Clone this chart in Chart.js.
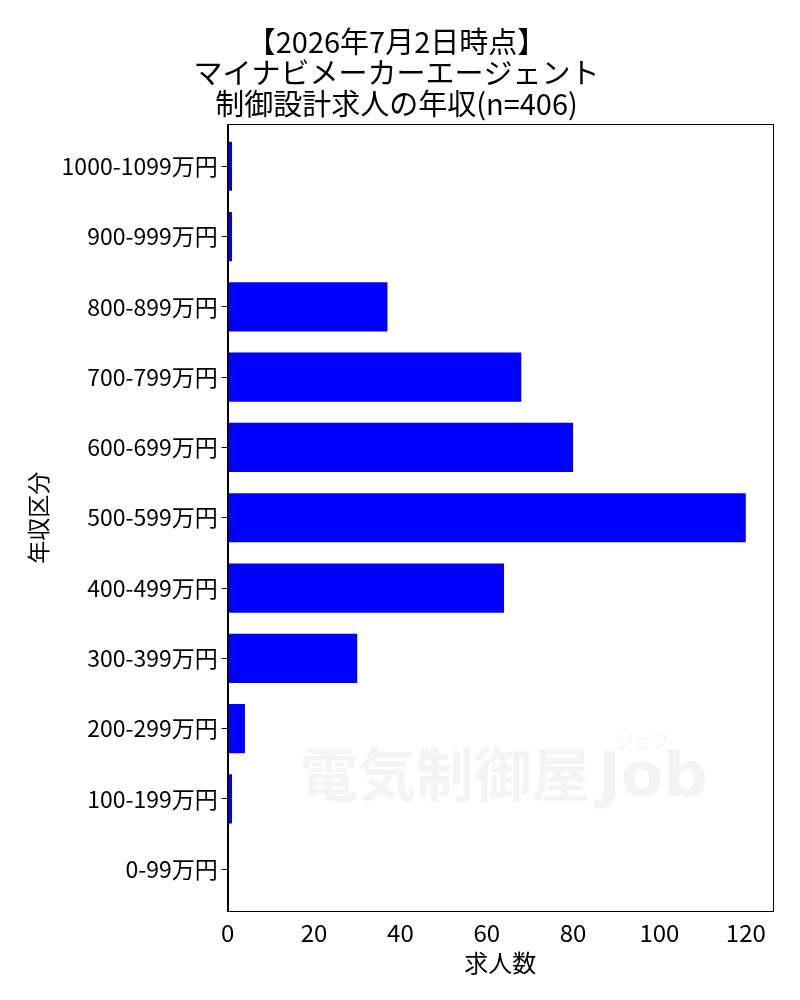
<!DOCTYPE html>
<html><head><meta charset="utf-8">
<script src="https://cdn.jsdelivr.net/npm/chart.js@4"></script>
<style>html,body{margin:0;padding:0;background:#fff}#wrap{width:800px;height:1000px}</style>
</head><body><div id="wrap"><canvas id="c" width="800" height="1000"></canvas></div>
<script>
const categories = ["1000-1099万円","900-999万円","800-899万円","700-799万円","600-699万円","500-599万円","400-499万円","300-399万円","200-299万円","100-199万円","0-99万円"];
const counts = [1,1,37,68,80,120,64,30,4,1,0];
const xTicks = [0,20,40,60,80,100,120];
const titleLines = ["【2026年7月2日時点】","マイナビメーカーエージェント","制御設計求人の年収(n=406)"];
const xTitle = "求人数";
const yTitle = "年収区分";
const watermark = "電気制御屋";

const FONT = "'Noto Sans CJK JP', 'Noto Sans', sans-serif";

const framePlugin = {
  id: 'frame',
  beforeDatasetsDraw(chart) {
    const {ctx, chartArea: a} = chart;
    ctx.save();
    ctx.fillStyle = '#f4f4f4';
    ctx.font = "bold 58px " + FONT;
    ctx.textBaseline = 'alphabetic';
    ctx.textAlign = 'left';
    ctx.fillText(watermark, a.left + 72, a.top + 672);
    ctx.font = "bold 62px 'DejaVu Sans', sans-serif";
    ctx.fillText("Job", a.left + 370, a.top + 672);
    ctx.font = "18px " + FONT;
    ctx.fillText("ジョブ", a.left + 388, a.top + 624);
    ctx.restore();
  },
  afterDraw(chart) {
    const {ctx, chartArea: a} = chart;
    ctx.save();
    ctx.strokeStyle = '#000';
    ctx.lineWidth = 1;
    ctx.strokeRect(Math.round(a.left) + 0.5, Math.round(a.top) + 0.5, Math.round(a.right - a.left), Math.round(a.bottom - a.top));
    ctx.restore();
  }
};

new Chart(document.getElementById('c'), {
  type: 'bar',
  data: {
    datasets: [{
      data: counts.map((v, i) => ({x: v, y: i})),
      backgroundColor: '#0000ff',
      borderWidth: 0,
      barPercentage: 0.7,
      categoryPercentage: 1.0
    }]
  },
  options: {
    indexAxis: 'y',
    responsive: false,
    animation: false,
    devicePixelRatio: 1,
    layout: {padding: {left: 20, right: 27, top: 0, bottom: 19}},
    plugins: {
      legend: {display: false},
      tooltip: {enabled: false},
      title: {
        display: true,
        text: titleLines,
        color: '#000',
        font: {family: FONT, size: 29, weight: 'normal', lineHeight: 1.07},
        padding: {top: 26, bottom: 5}
      }
    },
    scales: {
      x: {
        type: 'linear',
        min: 0, max: 126.3,
        afterBuildTicks(s) { s.ticks = xTicks.map(v => ({value: v})); },
        grid: {display: false, drawOnChartArea: false, drawTicks: true, tickLength: 6, color: '#000'},
        border: {display: true, color: '#000'},
        ticks: {color: '#000', font: {family: FONT, size: 24}, padding: 1, maxRotation: 0},
        title: {display: true, text: xTitle, color: '#000', font: {family: FONT, size: 24}, padding: {top: 0}}
      },
      y: {
        type: 'linear',
        offset: false,
        min: -0.6, max: 10.6,
        reverse: true,
        afterBuildTicks(s) { s.ticks = categories.map((_, i) => ({value: i})); },
        grid: {display: true, offset: false, drawOnChartArea: false, drawTicks: true, tickLength: 6, color: '#000'},
        border: {display: true, color: '#000'},
        ticks: {color: '#000', font: {family: FONT, size: 23}, padding: 4, autoSkip: false,
          callback: (v) => categories[v] ?? ''},
        title: {display: true, text: yTitle, color: '#000', font: {family: FONT, size: 23}, padding: {bottom: 6}}
      }
    }
  },
  plugins: [framePlugin]
});
</script></body></html>
